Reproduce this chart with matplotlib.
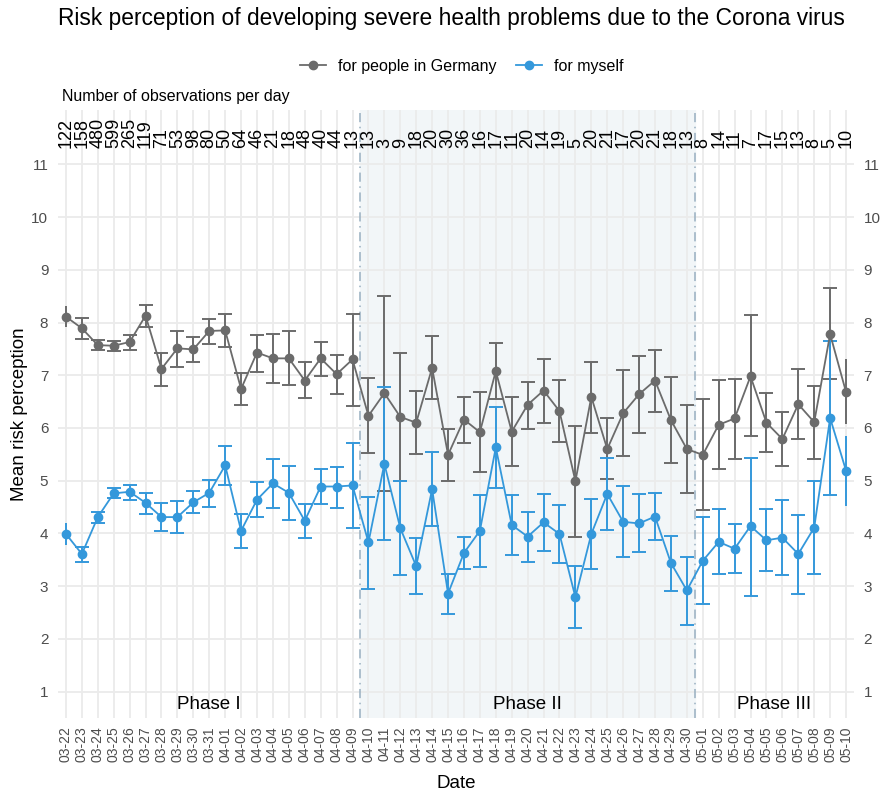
import matplotlib
matplotlib.use("Agg")
import matplotlib.pyplot as plt
from matplotlib.lines import Line2D
import numpy as np

plt.rcParams['font.family'] = ['Liberation Sans', 'DejaVu Sans']

dates = ["03-22","03-23","03-24","03-25","03-26","03-27","03-28","03-29","03-30","03-31",
         "04-01","04-02","04-03","04-04","04-05","04-06","04-07","04-08","04-09","04-10",
         "04-11","04-12","04-13","04-14","04-15","04-16","04-17","04-18","04-19","04-20",
         "04-21","04-22","04-23","04-24","04-25","04-26","04-27","04-28","04-29","04-30",
         "05-01","05-02","05-03","05-04","05-05","05-06","05-07","05-08","05-09","05-10"]
n_obs = [122,158,480,599,265,119,71,53,98,80,50,64,46,21,18,48,40,44,13,13,
         3,9,18,20,30,36,16,17,11,20,14,19,5,20,21,17,20,21,18,13,
         8,14,11,7,17,15,13,8,5,10]

germany_mean = [8.11,7.89,7.57,7.56,7.63,8.13,7.12,7.51,7.49,7.84,7.85,6.74,7.43,7.32,7.32,6.90,7.32,7.02,7.30,6.23,
                6.66,6.21,6.10,7.14,5.49,6.16,5.92,7.08,5.93,6.44,6.71,6.32,4.99,6.59,5.60,6.28,6.64,6.90,6.15,5.60,
                5.49,6.06,6.18,6.98,6.10,5.79,6.45,6.11,7.78,6.68]
germany_hi = [8.31,8.08,7.67,7.65,7.77,8.33,7.43,7.84,7.72,8.07,8.16,7.04,7.77,7.79,7.83,7.26,7.63,7.38,8.17,6.94,
              8.51,7.43,6.70,7.74,5.98,6.59,6.68,7.62,6.58,6.88,7.31,6.91,6.04,7.26,6.18,7.10,7.36,7.47,6.97,6.44,
              6.54,6.91,6.92,8.14,6.66,6.30,7.11,6.80,8.65,7.30]
germany_lo = [7.91,7.69,7.47,7.46,7.48,7.92,6.80,7.15,7.26,7.60,7.54,6.44,7.07,6.85,6.81,6.56,6.98,6.64,6.42,5.53,
              4.81,5.00,5.50,6.54,5.00,5.71,5.16,6.54,5.28,5.99,6.09,5.73,3.94,5.91,5.03,5.47,5.90,6.31,5.34,4.77,
              4.44,5.22,5.42,5.84,5.55,5.28,5.79,5.42,6.92,6.07]

myself_mean = [3.99,3.61,4.31,4.76,4.79,4.58,4.31,4.31,4.59,4.77,5.29,4.05,4.64,4.95,4.77,4.24,4.89,4.89,4.91,3.83,
               5.32,4.10,3.38,4.84,2.86,3.63,4.05,5.63,4.16,3.94,4.21,3.99,2.79,3.99,4.75,4.22,4.19,4.32,3.44,2.92,
               3.48,3.84,3.71,4.14,3.87,3.92,3.61,4.11,6.19,5.19]
myself_hi = [4.20,3.75,4.41,4.86,4.91,4.77,4.57,4.62,4.81,5.02,5.66,4.37,4.98,5.41,5.27,4.55,5.23,5.26,5.72,4.70,
             6.78,4.99,3.92,5.54,3.23,3.94,4.73,6.39,4.73,4.41,4.74,4.54,3.38,4.66,5.43,4.90,4.74,4.77,3.96,3.56,
             4.31,4.46,4.18,5.44,4.46,4.64,4.35,4.99,7.65,5.85]
myself_lo = [3.78,3.45,4.20,4.67,4.64,4.36,4.05,4.00,4.38,4.50,4.92,3.73,4.31,4.48,4.25,3.92,4.55,4.49,4.10,2.95,
             3.87,3.22,2.85,4.14,2.48,3.32,3.37,4.86,3.60,3.46,3.66,3.44,2.21,3.32,4.07,3.55,3.64,3.87,2.90,2.26,
             2.67,3.23,3.25,2.82,3.28,3.21,2.86,3.23,4.73,4.52]

phase_labels = ["Phase I", "Phase II", "Phase III"]
phase_bounds = [0.5, 19.5, 40.5, 50.5]   # positions between dates (1-based)

series = [("for people in Germany", germany_mean, germany_lo, germany_hi, "#6b6b6b"),
          ("for myself", myself_mean, myself_lo, myself_hi, "#3498db")]

W, H = 886, 793
fig = plt.figure(figsize=(W/100, H/100), dpi=100)
L, R, T, B = 58, 854, 110, 718
ax = fig.add_axes([L/W, 1-B/H, (R-L)/W, (B-T)/H])

x = np.arange(1, len(dates)+1)
ax.set_xlim(0.5, len(dates)+0.5)
ax.set_ylim(0.5, 12.03)

# Phase II shading
ax.axvspan(phase_bounds[1], phase_bounds[2], color="#f2f6f8", zorder=0)
for b in phase_bounds[1:3]:
    ax.axvline(b, color="#98afc0", lw=1.1, ls=(0, (6, 3, 1, 3)), zorder=1.5)

# grid
for xi in x:
    ax.axvline(xi, color="#ebebeb", lw=1.3, zorder=0.5)
for yi in range(1, 12):
    ax.axhline(yi, color="#ebebeb", lw=1.3, zorder=0.5)

for label, m, lo, hi, col in series:
    m = np.array(m); lo = np.array(lo); hi = np.array(hi)
    err = np.vstack([m - lo, hi - m])
    inner = slice(1, len(m)-1)
    ax.errorbar(x[inner], m[inner], yerr=err[:, inner], fmt='none', ecolor=col,
                elinewidth=1.4, capsize=5, capthick=1.4, zorder=3)
    for idx in (0, len(m)-1):
        ax.errorbar([x[idx]], [m[idx]], yerr=err[:, idx:idx+1], fmt='none', ecolor=col,
                    elinewidth=1.4, capsize=0, zorder=3)
    ax.plot(x, m, color=col, lw=1.3, marker='o', ms=6, zorder=4)

# observation counts
for xi, n in zip(x, n_obs):
    ax.text(xi, 11.31, str(n), rotation=90, ha='center', va='bottom', fontsize=13,
            color='black', zorder=5)

# phase labels
for lab, a, b in zip(phase_labels, phase_bounds[:-1], phase_bounds[1:]):
    ax.text((a+b)/2, 0.76, lab, ha='center', va='center', fontsize=13.5, color='black', zorder=5)

for s in ax.spines.values():
    s.set_visible(False)
ax.set_xticks(x)
ax.set_xticklabels(dates, rotation=90, fontsize=10, color='#4d4d4d')
ax.set_yticks(range(1, 12))
ax.set_yticklabels([str(i) for i in range(1, 12)], fontsize=11, color='#4d4d4d')
ax.tick_params(axis='both', length=0)
ax.tick_params(axis='x', pad=6)
ax.tick_params(axis='y', pad=7)

ax2 = ax.twinx()
ax2.set_ylim(ax.get_ylim())
ax2.set_yticks(range(1, 12))
ax2.set_yticklabels([str(i) for i in range(1, 12)], fontsize=11, color='#4d4d4d')
ax2.tick_params(axis='y', length=0, pad=7)
for s in ax2.spines.values():
    s.set_visible(False)

ax.set_xlabel("Date", fontsize=13.5, labelpad=9)
ax.set_ylabel("Mean risk perception", fontsize=13.5, labelpad=2)

fig.text(L/W, 1-25/H, "Risk perception of developing severe health problems due to the Corona virus",
         ha='left', va='baseline', fontsize=16.4)
fig.text(62/W, 1-97/H, "Number of observations per day", ha='left', va='center', fontsize=11.5)

handles = [Line2D([], [], color=c, lw=1.3, marker='o', ms=6) for _, _, _, _, c in series]
fig.legend(handles, [s[0] for s in series], loc='center', bbox_to_anchor=(462/W, 1-66/H),
           ncol=2, frameon=False, fontsize=11.5, handlelength=1.6, columnspacing=1.2,
           handletextpad=0.8)

fig.savefig("out.png", dpi=100)
